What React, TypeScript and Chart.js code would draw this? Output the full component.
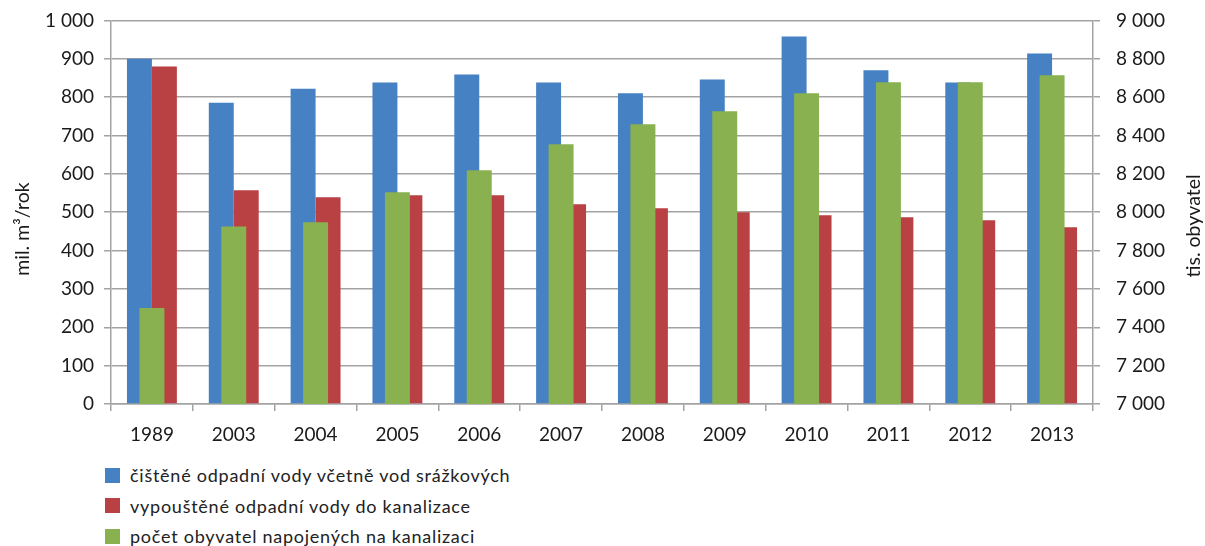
import React, { useEffect, useRef } from "react";
import { Chart, registerables } from "chart.js";

Chart.register(...registerables);

const years = ["1989", "2003", "2004", "2005", "2006", "2007", "2008", "2009", "2010", "2011", "2012", "2013"];
const cleanedWater = [900, 785, 822, 838, 859, 838, 810, 846, 958, 870, 838, 914];
const dischargedWater = [880, 557, 539, 544, 544, 521, 510, 500, 492, 487, 479, 461];
const connectedPopulation = [7500, 7925, 7948, 8104, 8219, 8354, 8458, 8526, 8620, 8677, 8677, 8714];

const seriesNames = [
  "čištěné odpadní vody včetně vod srážkových",
  "vypouštěné odpadní vody do kanalizace",
  "počet obyvatel napojených na kanalizaci",
];
const seriesColors = ["#4581C3", "#BA4143", "#89B14F"];
const leftTitle = "mil. m³/rok";
const rightTitle = "tis. obyvatel";

const FONT = "Lato, 'Open Sans', sans-serif";
const fmt = (v: number) => String(v).replace(/\B(?=(\d{3})+(?!\d))/g, " ");
const SHIFT = 7;

const axisTitlePlugin = {
  id: "axisTitles",
  afterDraw(chart: any) {
    const ctx = chart.ctx;
    const draw = (text: string, x: number, y: number) => {
      ctx.save();
      ctx.fillStyle = "#1a1a1a";
      ctx.font = `19.5px ${FONT}`;
      ctx.textAlign = "center";
      ctx.textBaseline = "middle";
      ctx.translate(x, y);
      ctx.rotate(-Math.PI / 2);
      ctx.fillText(text, 0, 0);
      ctx.restore();
    };
    draw(leftTitle, 23, 229 + SHIFT);
    draw(rightTitle, 1194, 226 + SHIFT);
  },
};

export default function App() {
  const ref = useRef<HTMLCanvasElement | null>(null);

  useEffect(() => {
    if (!ref.current) return;
    const gridColor = "#a3a3a3";
    const chart = new Chart(ref.current, {
      type: "bar",
      data: {
        labels: years,
        datasets: [
          {
            label: seriesNames[0],
            data: cleanedWater,
            backgroundColor: seriesColors[0],
            yAxisID: "y",
            order: 1,
            categoryPercentage: 0.61,
            barPercentage: 1,
          },
          {
            label: seriesNames[1],
            data: dischargedWater,
            backgroundColor: seriesColors[1],
            yAxisID: "y",
            order: 2,
            categoryPercentage: 0.61,
            barPercentage: 1,
          },
          {
            label: seriesNames[2],
            data: connectedPopulation,
            backgroundColor: seriesColors[2],
            yAxisID: "y2",
            order: 0,
            grouped: false,
            categoryPercentage: 0.305,
            barPercentage: 1,
          },
        ],
      },
      options: {
        animation: false,
        responsive: false,
        maintainAspectRatio: false,
        layout: { padding: { top: 13, left: 0, right: 0, bottom: 0 } },
        plugins: { legend: { display: false }, tooltip: { enabled: false } },
        scales: {
          x: {
            type: "category",
            offset: true,
            grid: { display: true, drawOnChartArea: false, offset: true, color: gridColor, lineWidth: 1.5, tickLength: 7 },
            border: { color: gridColor, width: 1.5 },
            ticks: { color: "#1a1a1a", font: { family: FONT, size: 19 }, padding: 12, maxRotation: 0 },
            afterFit: (s: any) => { s.height = 56; },
          },
          y: {
            position: "left",
            min: 0,
            max: 1000,
            ticks: { stepSize: 100, color: "#1a1a1a", font: { family: FONT, size: 19 }, padding: 10, callback: (v: any) => fmt(Number(v)) },
            grid: { color: gridColor, lineWidth: 1.5, tickLength: 7 },
            border: { color: gridColor, width: 1.5 },
            afterFit: (s: any) => { s.width = 111; },
          },
          y2: {
            position: "right",
            min: 7000,
            max: 9000,
            ticks: { stepSize: 200, color: "#1a1a1a", font: { family: FONT, size: 19 }, padding: 16, callback: (v: any) => fmt(Number(v)) },
            grid: { drawOnChartArea: false, color: gridColor, lineWidth: 1.5, tickLength: 7 },
            border: { color: gridColor, width: 1.5 },
            afterFit: (s: any) => { s.width = 112; },
          },
        },
      } as any,
      plugins: [axisTitlePlugin],
    });
    return () => chart.destroy();
  }, []);

  return (
    <div style={{ position: "absolute", left: 0, top: 0, width: 1205, height: 546, background: "#fff", fontFamily: FONT, overflow: "hidden" }}>
      <canvas ref={ref} width={1205} height={467} style={{ position: "absolute", left: 0, top: -SHIFT, width: 1205, height: 467 }} />
      <div style={{ position: "absolute", left: 105, top: 460 }}>
        {seriesNames.map((name, i) => (
          <div key={name} style={{ display: "flex", alignItems: "center", height: 30.5, fontSize: 18, letterSpacing: "0.75px", color: "#222", whiteSpace: "nowrap" }}>
            <span style={{ display: "inline-block", width: 15, height: 15, background: seriesColors[i], marginRight: 10 }} />
            <span>{name}</span>
          </div>
        ))}
      </div>
    </div>
  );
}
